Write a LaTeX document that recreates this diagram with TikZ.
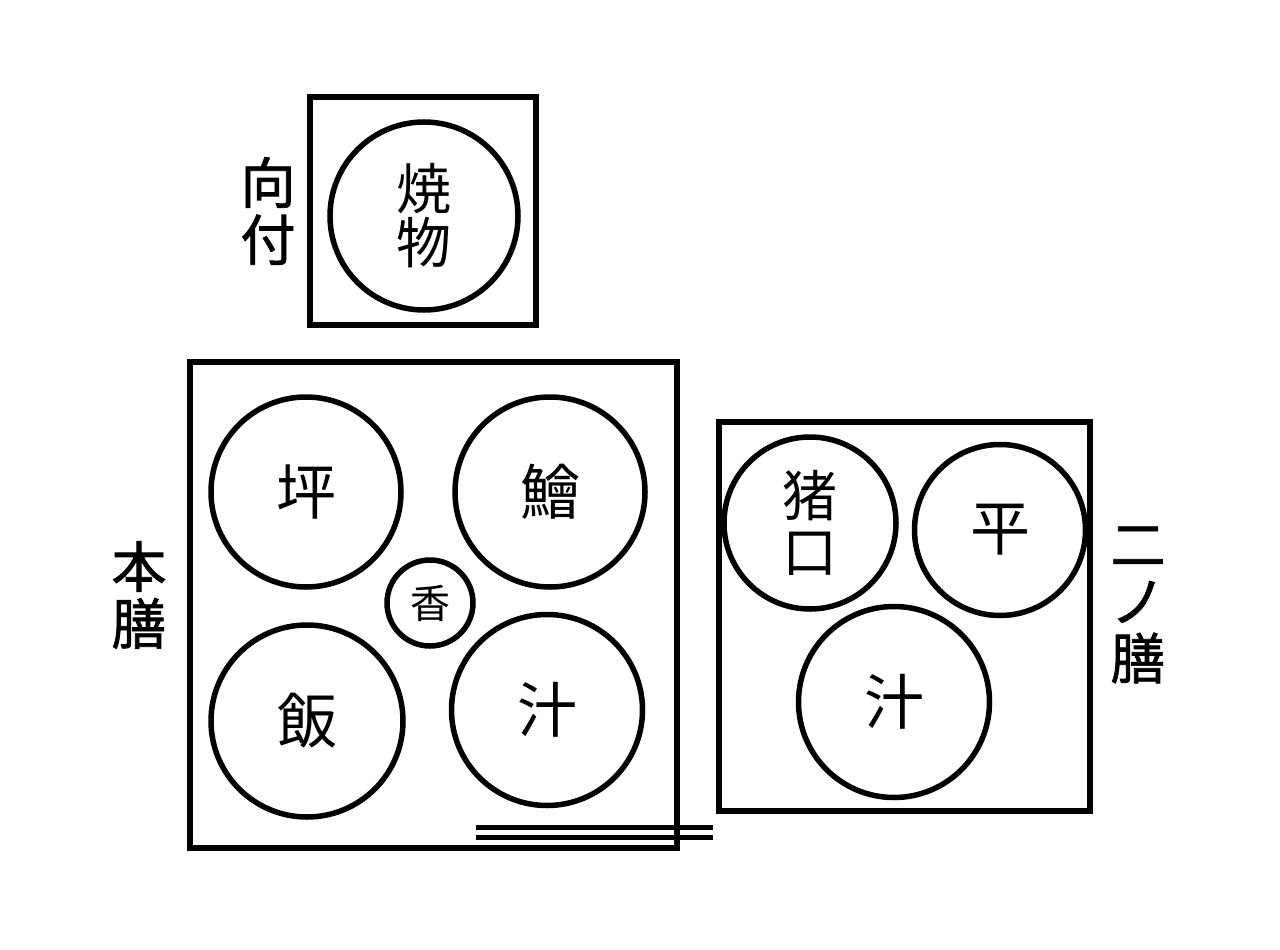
\documentclass[tikz,border=0pt]{standalone}
\usepackage{fontspec}
\setmainfont{Noto Sans CJK JP}
\newfontfamily\traynamefont[FakeBold=1.3]{Noto Sans CJK JP}
\begin{document}
\begin{tikzpicture}[x=1pt,y=-1pt]
\tikzstyle{every node}+=[inner sep=0pt]
\tikzstyle{tray}=[draw=black,line width=5.5pt]
\tikzstyle{dish}=[draw=black,circle,line width=5.5pt,align=center,font=\fontsize{60}{56}\selectfont]
\tikzstyle{trayname}=[align=center,font=\traynamefont\fontsize{55}{57}\selectfont]
\useasboundingbox (0,0) rectangle (1280,950);
% mukouzuke
\draw [tray] (310,97) rectangle (536,325);
\node [dish,minimum size=188pt,font=\fontsize{55}{54}\selectfont] (yakimono) at (424,216) {焼\\物};
\node [trayname] (mukou) at (268,211) {向\\付};
% honzen
\draw [tray] (190,362) rectangle (677,848);
\node [dish,minimum size=190pt] (tsubo) at (306,492) {坪};
\node [dish,minimum size=190pt] (namasu) at (550,492) {鱠};
\node [dish,minimum size=86pt,font=\fontsize{40}{40}\selectfont] (kou) at (430,603) {香};
\node [dish,minimum size=192pt] (meshi) at (307,721) {飯};
\node [dish,minimum size=191pt] (shiru) at (547,710) {汁};
\node [trayname] (hon) at (139,595) {本\\膳};
% chopsticks
\coordinate (hashiAl) at (476,827);
\coordinate (hashiAr) at (713,827);
\coordinate (hashiBl) at (476,837);
\coordinate (hashiBr) at (713,837);
\draw [line width=5pt] (hashiAl) -- (hashiAr);
\draw [line width=5pt] (hashiBl) -- (hashiBr);
% ninozen
\draw [tray] (719,422) rectangle (1090,811);
\node [dish,minimum size=172pt,font=\fontsize{55}{56}\selectfont] (choku) at (810,523) {猪\\口};
\node [dish,minimum size=171pt] (hira) at (1000,530) {平};
\node [dish,minimum size=191pt] (shiru2) at (894,702) {汁};
\node [trayname] (nino) at (1138,605) {二\\ノ\\膳};
\end{tikzpicture}
\end{document}
